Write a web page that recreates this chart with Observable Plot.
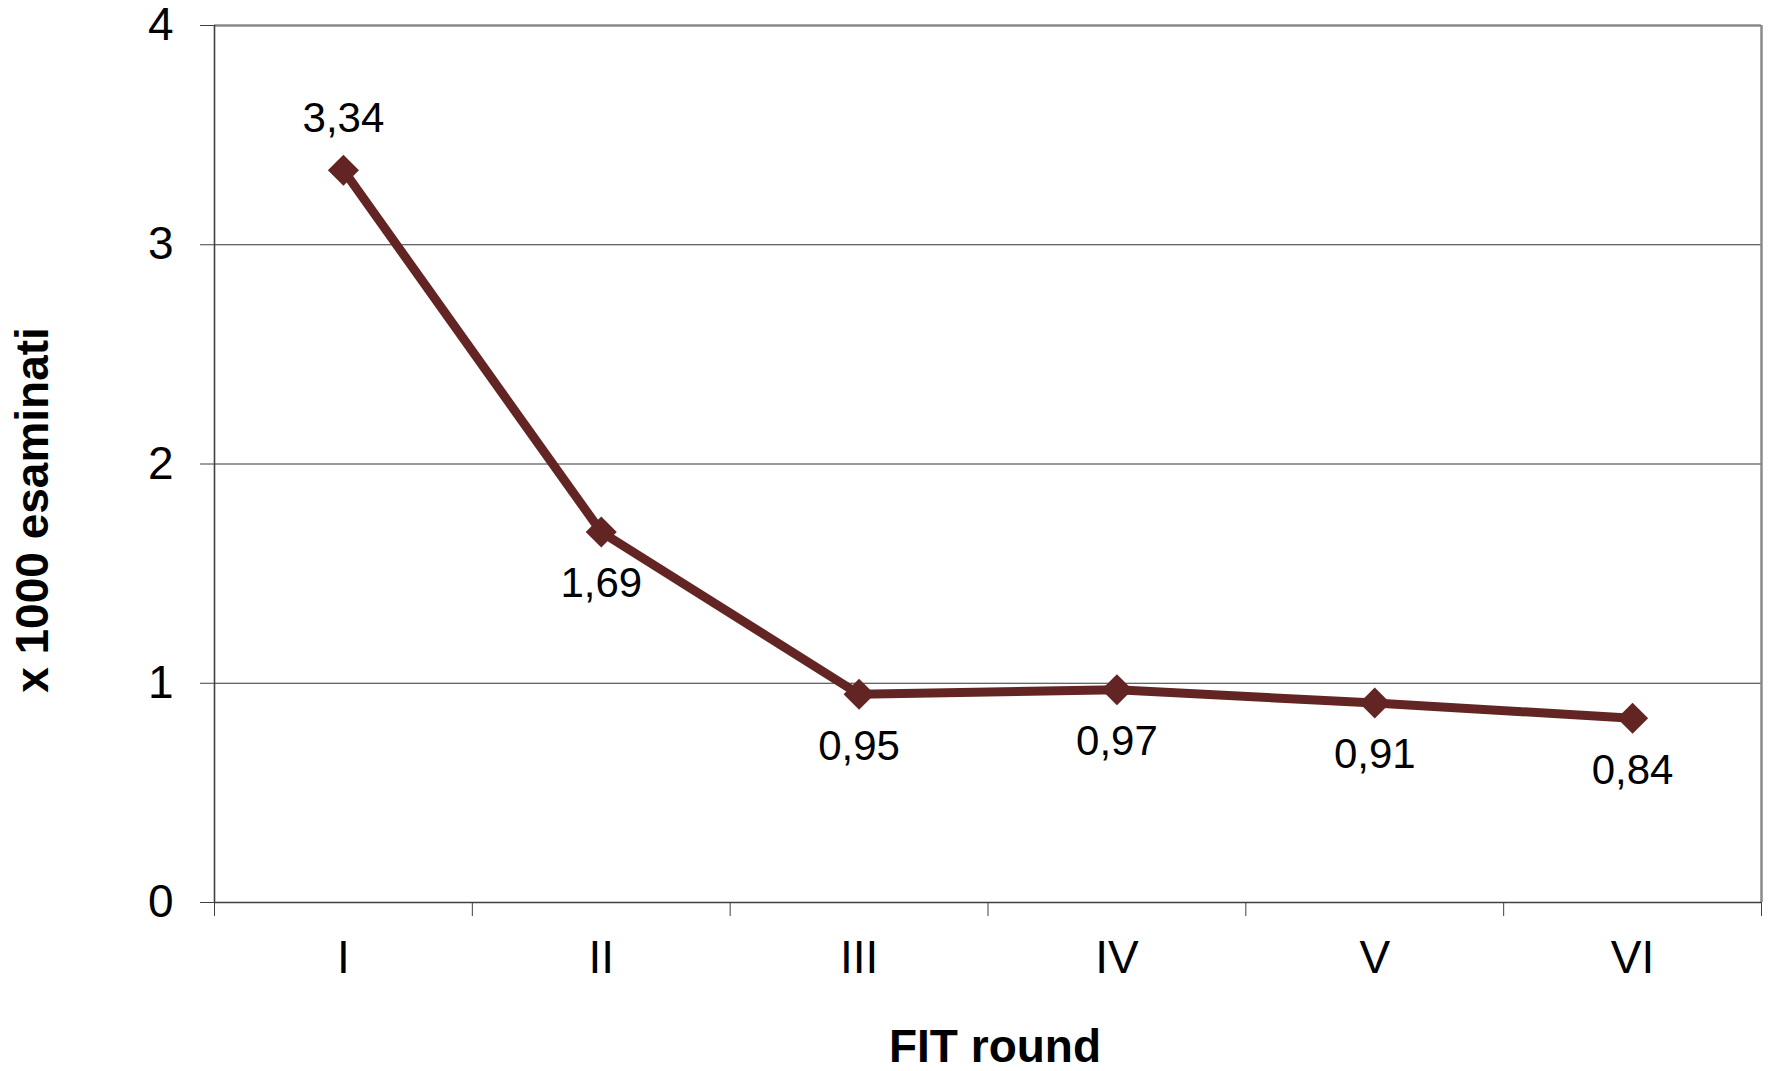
<!DOCTYPE html>
<html>
<head>
<meta charset="utf-8">
<script src="https://cdn.jsdelivr.net/npm/d3@7"></script>
<script src="https://cdn.jsdelivr.net/npm/@observablehq/plot@0.6"></script>
<style>
  html, body { margin: 0; padding: 0; background: #fff; }
  #chart svg { display: block; overflow: visible; }
</style>
</head>
<body>
<div id="chart"></div>
<script>
const categories = ["I", "II", "III", "IV", "V", "VI"];
const values = [3.34, 1.69, 0.95, 0.97, 0.91, 0.84];
const yTicks = [0, 1, 2, 3, 4];
const yTitle = "x 1000 esaminati";
const xTitle = "FIT round";

const data = categories.map((c, i) => ({cat: c, pos: i + 0.5, value: values[i], idx: i}));
const fmt = v => d3.format(".2f")(v).replace(".", ",");
const bounds = d3.range(categories.length + 1);
const lineColor = "#632523";
const font = "'Liberation Sans', Arial, sans-serif";

const chart = Plot.plot({
  width: 1768,
  height: 1071,
  marginTop: 25,
  marginBottom: 169,
  marginLeft: 214,
  marginRight: 7,
  style: {fontFamily: font, fontSize: "46px", color: "black", background: "white"},
  x: {domain: [0, categories.length], axis: null},
  y: {domain: [0, 4], axis: null},
  marks: [
    Plot.ruleY(yTicks.filter(d => d > 0 && d < 4), {stroke: "#333333", strokeWidth: 1.2}),
    Plot.ruleY([4], {stroke: "#8a8a8a", strokeWidth: 2.5}),
    Plot.ruleX([categories.length], {stroke: "#8a8a8a", strokeWidth: 2.5}),
    Plot.ruleX([0], {stroke: "#404040", strokeWidth: 1.6}),
    Plot.ruleY([0], {stroke: "#404040", strokeWidth: 1.6}),
    Plot.axisY(yTicks, {tickSize: 14, tickPadding: 27, fontSize: 46, stroke: "#404040", fill: "black", tickFormat: d => String(d), label: null}),
    Plot.axisX(bounds, {tickSize: 14, stroke: "#404040", tickFormat: () => "", label: null}),
    Plot.axisX(data.map(d => d.pos), {tickSize: 0, tickPadding: 38, fontSize: 46, fill: "black", tickFormat: d => categories[Math.floor(d)], label: null}),
    Plot.line(data, {x: "pos", y: "value", stroke: lineColor, strokeWidth: 9, strokeLinejoin: "miter"}),
    Plot.dot(data, {x: "pos", y: "value", symbol: "diamond2", r: 14, fill: lineColor, stroke: "none"}),
    Plot.text(data.filter(d => d.idx === 0), {x: "pos", y: "value", text: d => fmt(d.value), dy: -52, fontSize: 42, fill: "black", lineAnchor: "middle"}),
    Plot.text(data.filter(d => d.idx !== 0), {x: "pos", y: "value", text: d => fmt(d.value), dy: 52, fontSize: 42, fill: "black", lineAnchor: "middle"}),
    Plot.text([yTitle], {frameAnchor: "left", dx: -181, dy: 46, rotate: -90, text: d => d, fontSize: 46, fontWeight: "bold", fill: "black", lineAnchor: "middle", textAnchor: "middle"}),
    Plot.text([xTitle], {frameAnchor: "bottom", dx: 7, dy: 145, text: d => d, fontSize: 46, fontWeight: "bold", fill: "black", lineAnchor: "middle"})
  ]
});
document.getElementById("chart").appendChild(chart);
</script>
</body>
</html>
